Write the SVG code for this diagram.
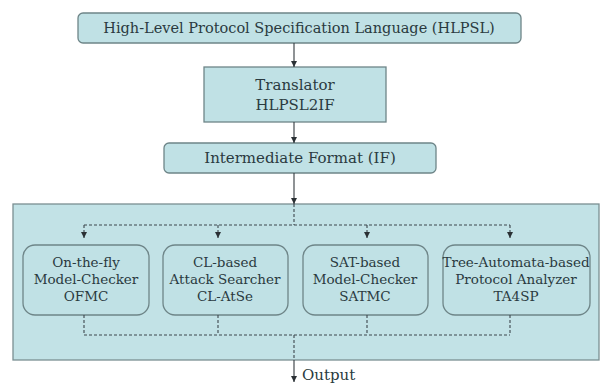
<svg xmlns="http://www.w3.org/2000/svg" width="604" height="385" viewBox="0 0 604 385">
<defs>
<style>
.box{fill:#c0e1e5;stroke:#6e8588;stroke-width:1.3}
.big{fill:#c2e2e6;stroke:#7a8f92;stroke-width:1.3}
.t{font-family:"DejaVu Serif","Liberation Serif",serif;fill:#2a3a40;text-anchor:middle}
.l18{font-size:15px}
.l16{font-size:13.5px}
.solid{stroke:#333a3e;stroke-width:1.1;fill:none}
.dash{stroke:#3c464c;stroke-width:1.1;fill:none;stroke-dasharray:3 2}
</style>
<marker id="ah" viewBox="0 0 6 6" refX="6" refY="3" markerWidth="6" markerHeight="6" orient="auto" markerUnits="userSpaceOnUse">
<path d="M0,0 L6,3 L0,6 Z" fill="#2a3034"/>
</marker>
</defs>
<rect width="604" height="385" fill="#ffffff"/>
<g id="hlpsl">
<rect class="box" x="78" y="13" width="443" height="30" rx="5"/>
<text class="t" style="font-size:14.5px" x="299" y="33">High-Level Protocol Specification Language (HLPSL)</text>
</g>
<g id="translator">
<rect class="box" x="204" y="67" width="182" height="55"/>
<text class="t l18" x="295" y="90">Translator</text>
<text class="t l18" x="295" y="110">HLPSL2IF</text>
</g>
<g id="if">
<rect class="box" x="164" y="143" width="272" height="30" rx="5"/>
<text class="t l18" x="300" y="163">Intermediate Format (IF)</text>
</g>
<g id="backends">
<rect class="big" x="13" y="204" width="586" height="156"/>
</g>
<g id="ofmc">
<rect class="box" x="23" y="245" width="126" height="70" rx="12"/>
<text class="t l16" x="86" y="267">On-the-fly</text>
<text class="t l16" x="86" y="284">Model-Checker</text>
<text class="t l16" x="86" y="301">OFMC</text>
</g>
<g id="clatse">
<rect class="box" x="163" y="245" width="125" height="70" rx="12"/>
<text class="t l16" x="225" y="267">CL-based</text>
<text class="t l16" x="225" y="284">Attack Searcher</text>
<text class="t l16" x="225" y="301">CL-AtSe</text>
</g>
<g id="satmc">
<rect class="box" x="303" y="245" width="125" height="70" rx="12"/>
<text class="t l16" x="365" y="267">SAT-based</text>
<text class="t l16" x="365" y="284">Model-Checker</text>
<text class="t l16" x="365" y="301">SATMC</text>
</g>
<g id="ta4sp">
<rect class="box" x="443" y="245" width="147" height="70" rx="12"/>
<text class="t l16" x="516" y="267">Tree-Automata-based</text>
<text class="t l16" x="516" y="284">Protocol Analyzer</text>
<text class="t l16" x="516" y="301">TA4SP</text>
</g>
<g id="connectors">
<line class="solid" x1="294" y1="43" x2="294" y2="67" marker-end="url(#ah)"/>
<line class="solid" x1="294" y1="122" x2="294" y2="143" marker-end="url(#ah)"/>
<line class="solid" x1="294" y1="173" x2="294" y2="204" marker-end="url(#ah)"/>
<path class="dash" d="M294,204 V225 M84,225 H510"/>
<line class="dash" x1="84" y1="225" x2="84" y2="238" marker-end="url(#ah)"/>
<line class="dash" x1="218" y1="225" x2="218" y2="238" marker-end="url(#ah)"/>
<line class="dash" x1="367" y1="225" x2="367" y2="238" marker-end="url(#ah)"/>
<line class="dash" x1="510" y1="225" x2="510" y2="238" marker-end="url(#ah)"/>
<path class="dash" d="M84,315 V335 M218,315 V335 M367,315 V335 M510,315 V335 M84,335 H510 M294,335 V360"/>
<line class="solid" x1="294" y1="360" x2="294" y2="382" marker-end="url(#ah)"/>
<text class="t l18" x="302" y="380" style="text-anchor:start">Output</text>
</g>
</svg>
